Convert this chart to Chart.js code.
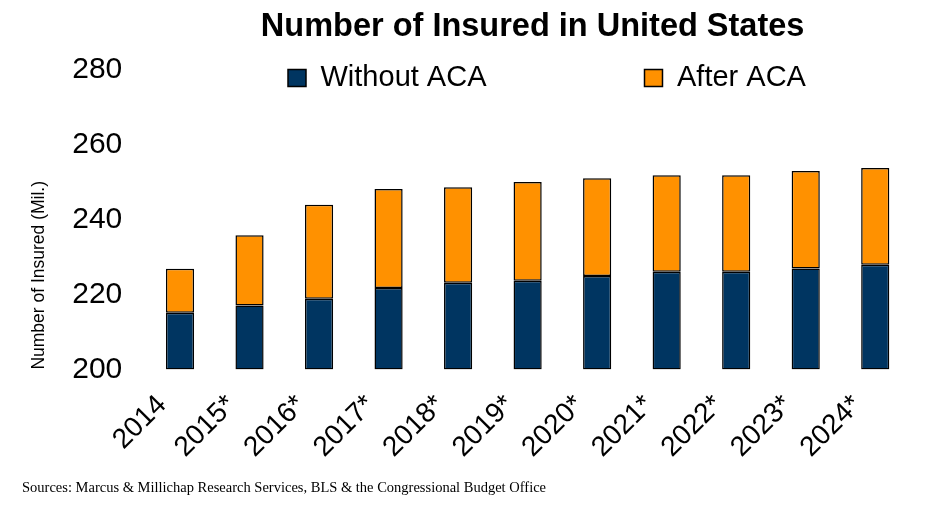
<!DOCTYPE html>
<html>
<head>
<meta charset="utf-8">
<script src="https://cdn.jsdelivr.net/npm/chart.js@4/dist/chart.umd.min.js"></script>
<style>
  html, body { margin: 0; padding: 0; background: #ffffff; }
  #wrap { width: 936px; height: 508px; }
</style>
</head>
<body>
<div id="wrap"><canvas id="c" width="936" height="508"></canvas></div>
<script>
// ---- Data ----
const categories = ['2014', '2015*', '2016*', '2017*', '2018*', '2019*', '2020*', '2021*', '2022*', '2023*', '2024*'];
// Insured without ACA (millions)
const withoutACA = [215.2, 217.1, 218.9, 221.8, 223.2, 223.7, 225.0, 226.1, 226.1, 227.0, 228.0];
// Additional insured after ACA (stacked segment, millions)
const afterACA = [11.7, 18.8, 25.1, 26.4, 25.5, 26.4, 26.1, 25.8, 25.8, 26.0, 25.8];
const yTicks = [200, 220, 240, 260, 280];

const chartTitle = 'Number of Insured in United States';
const yAxisTitle = 'Number of Insured (Mil.)';
const sourceNote = 'Sources: Marcus & Millichap Research Services, BLS & the Congressional Budget Office';

// Place the legend row inside the top of the plot area, as in the reference
const LEGEND_X = 288;
const LEGEND_Y = 78;
const TITLE_SHIFT = 5;
const legendPlacer = {
  id: 'legendPlacer',
  afterLayout(chart) {
    const lg = chart.legend;
    if (lg && lg.lineWidths) {
      const P = lg.options.labels.padding;
      const fs = lg.options.labels.font.size;
      const startX = (lg.left + P + lg.right - lg.lineWidths[0]) / 2;
      const dx = LEGEND_X - startX;
      lg.left += dx;
      lg.right += dx;
      lg.top = LEGEND_Y - P - fs / 2;
      lg.bottom = LEGEND_Y + fs;
      lg.height = lg.bottom - lg.top;
    }
    const tb = chart.titleBlock;
    if (tb) {
      tb.left += TITLE_SHIFT;
      tb.right += TITLE_SHIFT;
    }
  }
};

new Chart(document.getElementById('c'), {
  type: 'bar',
  data: {
    labels: categories,
    datasets: [
      {
        label: 'Without ACA',
        data: withoutACA,
        base: yTicks[0],
        backgroundColor: '#003561',
        borderColor: '#000000',
        borderWidth: 1.5,
        borderSkipped: false
      },
      {
        label: 'After ACA',
        data: afterACA,
        backgroundColor: '#FF9100',
        borderColor: '#000000',
        borderWidth: 1.5,
        borderSkipped: false
      }
    ]
  },
  options: {
    responsive: false,
    animation: false,
    devicePixelRatio: 1,
    layout: { padding: { left: 22, right: 26, top: 0, bottom: 11 } },
    datasets: { bar: { categoryPercentage: 1.0, barPercentage: 0.405 } },
    plugins: {
      tooltip: { enabled: false },
      title: {
        display: true,
        text: chartTitle,
        fullSize: false,
        color: '#000000',
        font: { family: "'Liberation Sans', Arial, sans-serif", size: 32.5, weight: 'bold' },
        padding: { top: 8, bottom: 22 }
      },
      subtitle: {
        display: true,
        text: sourceNote,
        position: 'bottom',
        align: 'start',
        color: '#000000',
        font: { family: "'Liberation Serif', 'Times New Roman', serif", size: 14.5, weight: 'normal' },
        padding: { top: 10, bottom: 0 }
      },
      legend: {
        display: true,
        position: 'top',
        maxHeight: 1,
        labels: {
          color: '#000000',
          font: { family: "'Liberation Sans', Arial, sans-serif", size: 29 },
          boxWidth: 18,
          boxHeight: 17,
          padding: 158
        }
      }
    },
    scales: {
      x: {
        stacked: true,
        grid: { display: false, drawTicks: false },
        border: { display: false },
        ticks: {
          color: '#000000',
          font: { family: "'Liberation Sans', Arial, sans-serif", size: 28 },
          minRotation: 45,
          maxRotation: 45,
          padding: 19,
          labelOffset: -18
        },
        afterFit(scale) { scale.height = 100; }
      },
      y: {
        stacked: true,
        min: yTicks[0],
        max: yTicks[yTicks.length - 1],
        grid: { display: false, drawTicks: false },
        border: { display: false },
        afterBuildTicks(scale) { scale.ticks = yTicks.map(v => ({ value: v })); },
        ticks: {
          color: '#000000',
          font: { family: "'Liberation Sans', Arial, sans-serif", size: 30 },
          padding: 23
        },
        title: {
          display: true,
          text: yAxisTitle,
          align: 'start',
          color: '#000000',
          font: { family: "'Liberation Sans', Arial, sans-serif", size: 17.5 },
          padding: { top: 7, bottom: 0 }
        },
        afterFit(scale) { scale.width = 123.25; }
      }
    }
  },
  plugins: [legendPlacer]
});
</script>
</body>
</html>
